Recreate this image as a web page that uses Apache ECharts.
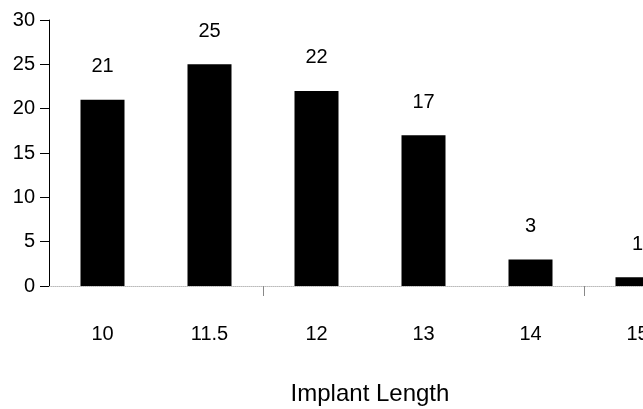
<!DOCTYPE html>
<html><head><meta charset="utf-8">
<script src="https://cdn.jsdelivr.net/npm/echarts@6/dist/echarts.min.js"></script>
<style>html,body{margin:0;padding:0;background:#fff}#c{width:643px;height:409px}</style>
</head><body><div id="c"></div>
<script>
var categories = ['10', '11.5', '12', '13', '14', '15'];
var counts = [21, 25, 22, 17, 3, 1];
var yTicks = [0, 5, 10, 15, 20, 25, 30];
var xName = 'Implant Length';

var chart = echarts.init(document.getElementById('c'));
chart.setOption({
  animation: false,
  grid: { left: 49, top: 20, bottom: 123, right: -48, containLabel: false, outerBoundsMode: 'none' },
  xAxis: {
    type: 'category', data: categories,
    name: xName, nameLocation: 'middle', nameGap: 96,
    nameTextStyle: { fontFamily: 'Liberation Sans', fontSize: 24, color: '#000' },
    axisLine: { lineStyle: { color: '#bbb', type: 'dotted', width: 1 } },
    axisTick: { show: true, length: 10, lineStyle: { color: '#888' },
      interval: function (i) { return i === 2 || i === 5; } },
    axisLabel: { margin: 38, fontFamily: 'Liberation Sans', fontSize: 20, color: '#000' }
  },
  yAxis: {
    type: 'value', min: yTicks[0], max: yTicks[yTicks.length - 1], interval: 5,
    splitLine: { show: false },
    axisLine: { show: true, lineStyle: { color: '#000', width: 1 } },
    axisTick: { show: true, length: 9, lineStyle: { color: '#000' } },
    axisLabel: { margin: 14, fontFamily: 'Liberation Sans', fontSize: 20, color: '#000' }
  },
  series: [{
    type: 'bar', data: counts, barWidth: 44,
    itemStyle: { color: '#000' },
    label: { show: true, position: 'top', distance: 23,
      fontFamily: 'Liberation Sans', fontSize: 20, color: '#000' }
  }]
});
</script></body></html>
